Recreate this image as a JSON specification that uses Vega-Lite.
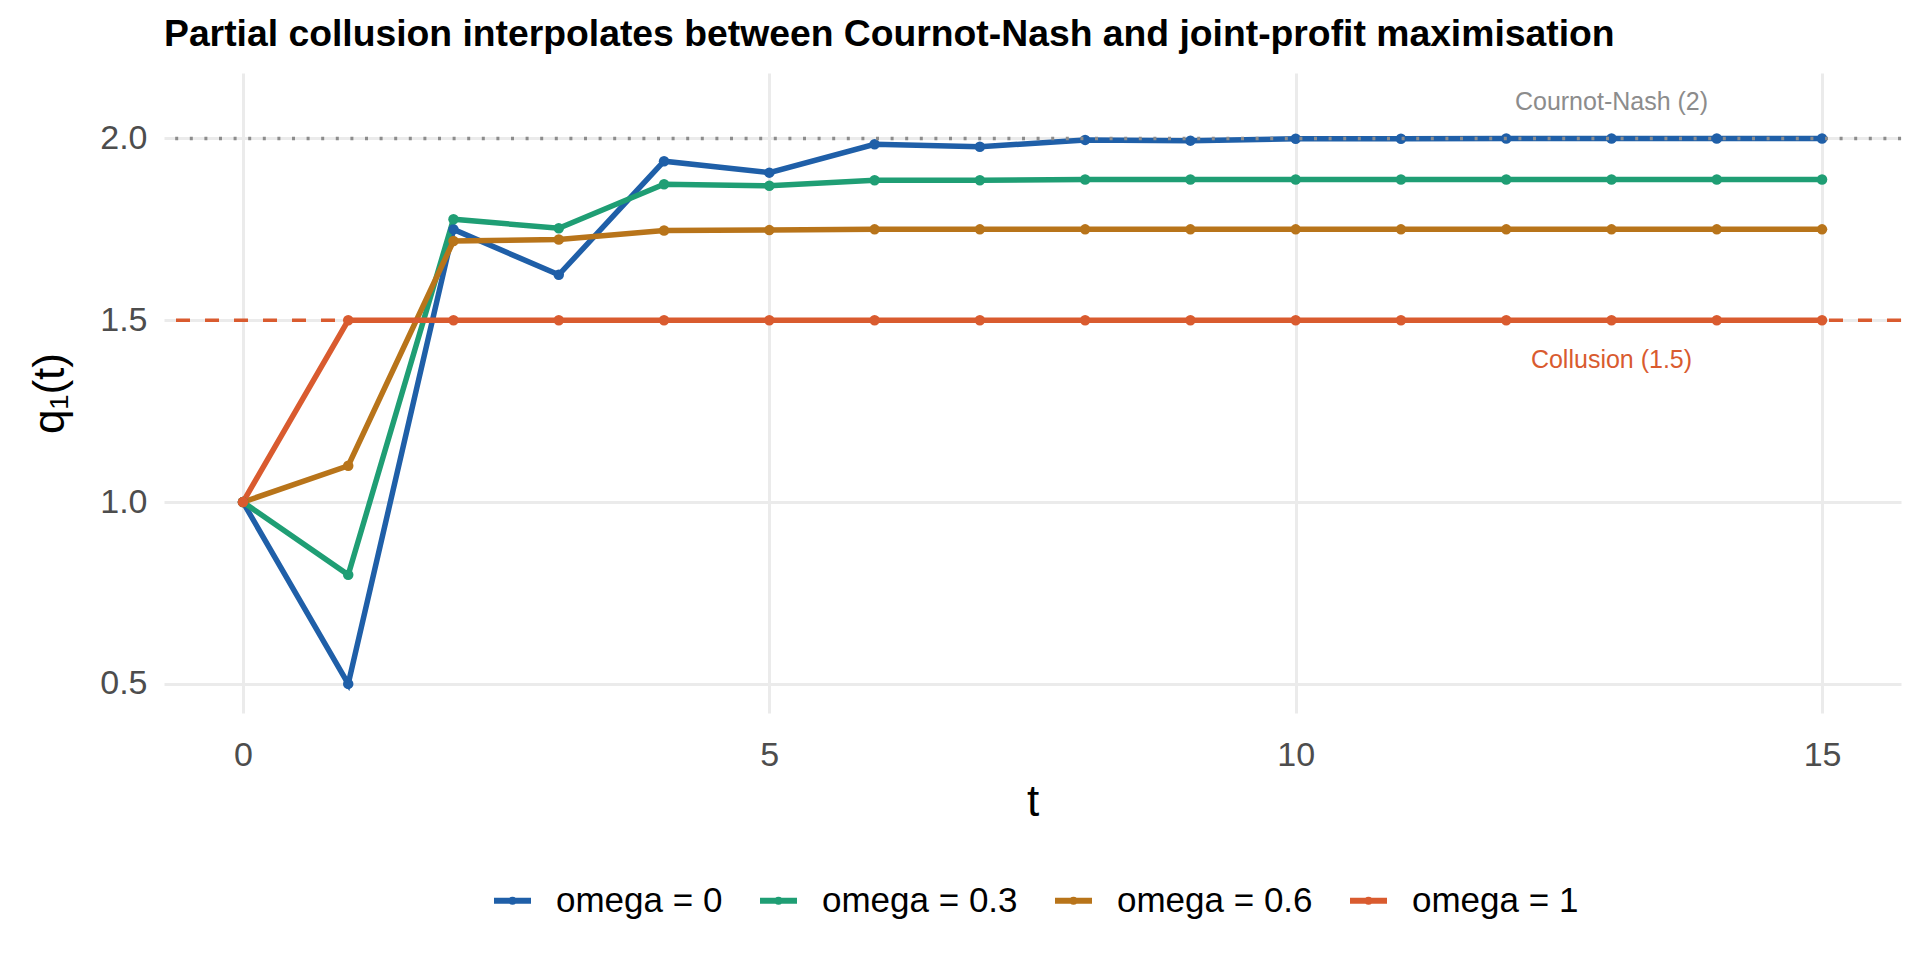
{
  "$schema": "https://vega.github.io/schema/vega-lite/v6.json",
  "description": "Partial collusion: q1(t) paths for several omega values.",
  "width": 1737,
  "height": 640,
  "autosize": {"type": "none"},
  "padding": {"left": 164, "top": 73, "right": 19, "bottom": 247},
  "background": "white",
  "title": {
    "text": "Partial collusion interpolates between Cournot-Nash and joint-profit maximisation",
    "anchor": "start",
    "frame": "group",
    "fontSize": 37.3,
    "fontWeight": "bold",
    "color": "black",
    "baseline": "alphabetic",
    "offset": 27,
    "dy": 37
  },
  "datasets": {
    "paths": [
      {"t": 0, "omega": "omega = 0", "q": 1.0},
      {"t": 1, "omega": "omega = 0", "q": 0.5},
      {"t": 2, "omega": "omega = 0", "q": 1.75},
      {"t": 3, "omega": "omega = 0", "q": 1.625},
      {"t": 4, "omega": "omega = 0", "q": 1.9375},
      {"t": 5, "omega": "omega = 0", "q": 1.906},
      {"t": 6, "omega": "omega = 0", "q": 1.984},
      {"t": 7, "omega": "omega = 0", "q": 1.977},
      {"t": 8, "omega": "omega = 0", "q": 1.996},
      {"t": 9, "omega": "omega = 0", "q": 1.994},
      {"t": 10, "omega": "omega = 0", "q": 1.999},
      {"t": 11, "omega": "omega = 0", "q": 1.999},
      {"t": 12, "omega": "omega = 0", "q": 2.0},
      {"t": 13, "omega": "omega = 0", "q": 2.0},
      {"t": 14, "omega": "omega = 0", "q": 2.0},
      {"t": 15, "omega": "omega = 0", "q": 2.0},
      {"t": 0, "omega": "omega = 0.3", "q": 1.0},
      {"t": 1, "omega": "omega = 0.3", "q": 0.8},
      {"t": 2, "omega": "omega = 0.3", "q": 1.778},
      {"t": 3, "omega": "omega = 0.3", "q": 1.753},
      {"t": 4, "omega": "omega = 0.3", "q": 1.874},
      {"t": 5, "omega": "omega = 0.3", "q": 1.870},
      {"t": 6, "omega": "omega = 0.3", "q": 1.885},
      {"t": 7, "omega": "omega = 0.3", "q": 1.885},
      {"t": 8, "omega": "omega = 0.3", "q": 1.887},
      {"t": 9, "omega": "omega = 0.3", "q": 1.887},
      {"t": 10, "omega": "omega = 0.3", "q": 1.887},
      {"t": 11, "omega": "omega = 0.3", "q": 1.887},
      {"t": 12, "omega": "omega = 0.3", "q": 1.887},
      {"t": 13, "omega": "omega = 0.3", "q": 1.887},
      {"t": 14, "omega": "omega = 0.3", "q": 1.887},
      {"t": 15, "omega": "omega = 0.3", "q": 1.887},
      {"t": 0, "omega": "omega = 0.6", "q": 1.0},
      {"t": 1, "omega": "omega = 0.6", "q": 1.1},
      {"t": 2, "omega": "omega = 0.6", "q": 1.718},
      {"t": 3, "omega": "omega = 0.6", "q": 1.722},
      {"t": 4, "omega": "omega = 0.6", "q": 1.747},
      {"t": 5, "omega": "omega = 0.6", "q": 1.748},
      {"t": 6, "omega": "omega = 0.6", "q": 1.75},
      {"t": 7, "omega": "omega = 0.6", "q": 1.75},
      {"t": 8, "omega": "omega = 0.6", "q": 1.75},
      {"t": 9, "omega": "omega = 0.6", "q": 1.75},
      {"t": 10, "omega": "omega = 0.6", "q": 1.75},
      {"t": 11, "omega": "omega = 0.6", "q": 1.75},
      {"t": 12, "omega": "omega = 0.6", "q": 1.75},
      {"t": 13, "omega": "omega = 0.6", "q": 1.75},
      {"t": 14, "omega": "omega = 0.6", "q": 1.75},
      {"t": 15, "omega": "omega = 0.6", "q": 1.75},
      {"t": 0, "omega": "omega = 1", "q": 1.0},
      {"t": 1, "omega": "omega = 1", "q": 1.5},
      {"t": 2, "omega": "omega = 1", "q": 1.5},
      {"t": 3, "omega": "omega = 1", "q": 1.5},
      {"t": 4, "omega": "omega = 1", "q": 1.5},
      {"t": 5, "omega": "omega = 1", "q": 1.5},
      {"t": 6, "omega": "omega = 1", "q": 1.5},
      {"t": 7, "omega": "omega = 1", "q": 1.5},
      {"t": 8, "omega": "omega = 1", "q": 1.5},
      {"t": 9, "omega": "omega = 1", "q": 1.5},
      {"t": 10, "omega": "omega = 1", "q": 1.5},
      {"t": 11, "omega": "omega = 1", "q": 1.5},
      {"t": 12, "omega": "omega = 1", "q": 1.5},
      {"t": 13, "omega": "omega = 1", "q": 1.5},
      {"t": 14, "omega": "omega = 1", "q": 1.5},
      {"t": 15, "omega": "omega = 1", "q": 1.5}
    ]
  },
  "layer": [
    {
      "data": {"name": "paths"},
      "mark": {
        "type": "line",
        "strokeWidth": 5.5,
        "point": {"filled": true, "size": 110}
      },
      "encoding": {
        "x": {
          "field": "t",
          "type": "quantitative",
          "title": "t",
          "scale": {"domain": [-0.75, 15.75], "nice": false, "zero": false},
          "axis": {"values": [0, 5, 10, 15], "format": "d", "labelPadding": 25, "titlePadding": 8}
        },
        "y": {
          "field": "q",
          "type": "quantitative",
          "title": "q₁(t)",
          "scale": {"domain": [0.42, 2.18], "nice": false, "zero": false},
          "axis": {"values": [0.5, 1.0, 1.5, 2.0], "format": ".1f", "labelPadding": 17, "titlePadding": 27}
        },
        "color": {
          "field": "omega",
          "type": "nominal",
          "title": null,
          "scale": {
            "domain": ["omega = 0", "omega = 0.3", "omega = 0.6", "omega = 1"],
            "range": ["#1F5FA8", "#1F9E74", "#B8741A", "#D95B2F"]
          },
          "legend": {
            "orient": "none",
            "direction": "horizontal",
            "legendX": 327,
            "legendY": 806,
            "symbolType": "M-1,0H1M-0.06,0A0.06,0.06 0 1,0 0.06,0A0.06,0.06 0 1,0 -0.06,0",
            "symbolSize": 1369,
            "symbolStrokeWidth": 6,
            "labelFontSize": 35,
            "labelColor": "black",
            "labelLimit": 400,
            "labelOffset": 22,
            "columnPadding": 25
          }
        }
      }
    },
    {
      "data": {"values": [{"q": 2.0}]},
      "mark": {"type": "rule", "color": "#8C8C8C", "strokeWidth": 3.5, "strokeDash": [3, 11.6]},
      "encoding": {"y": {"field": "q", "type": "quantitative"}}
    },
    {
      "data": {"values": [{"q": 1.5}]},
      "mark": {"type": "rule", "color": "#D95B2F", "strokeWidth": 3.5, "strokeDash": [14, 15]},
      "encoding": {"y": {"field": "q", "type": "quantitative"}}
    },
    {
      "data": {"values": [{"t": 13, "q": 2.1, "label": "Cournot-Nash (2)"}]},
      "mark": {"type": "text", "color": "#8C8C8C", "fontSize": 25, "align": "center", "baseline": "middle"},
      "encoding": {
        "x": {"field": "t", "type": "quantitative"},
        "y": {"field": "q", "type": "quantitative"},
        "text": {"field": "label"}
      }
    },
    {
      "data": {"values": [{"t": 13, "q": 1.39, "label": "Collusion (1.5)"}]},
      "mark": {"type": "text", "color": "#D95B2F", "fontSize": 25, "align": "center", "baseline": "middle"},
      "encoding": {
        "x": {"field": "t", "type": "quantitative"},
        "y": {"field": "q", "type": "quantitative"},
        "text": {"field": "label"}
      }
    }
  ],
  "config": {
    "font": "Liberation Sans",
    "view": {"stroke": null},
    "axis": {
      "grid": true,
      "gridColor": "#EBEBEB",
      "gridWidth": 3,
      "domain": false,
      "ticks": false,
      "labelFontSize": 34,
      "labelColor": "#4D4D4D",
      "titleFontSize": 44,
      "titleFontWeight": "normal",
      "titleColor": "black"
    }
  }
}
